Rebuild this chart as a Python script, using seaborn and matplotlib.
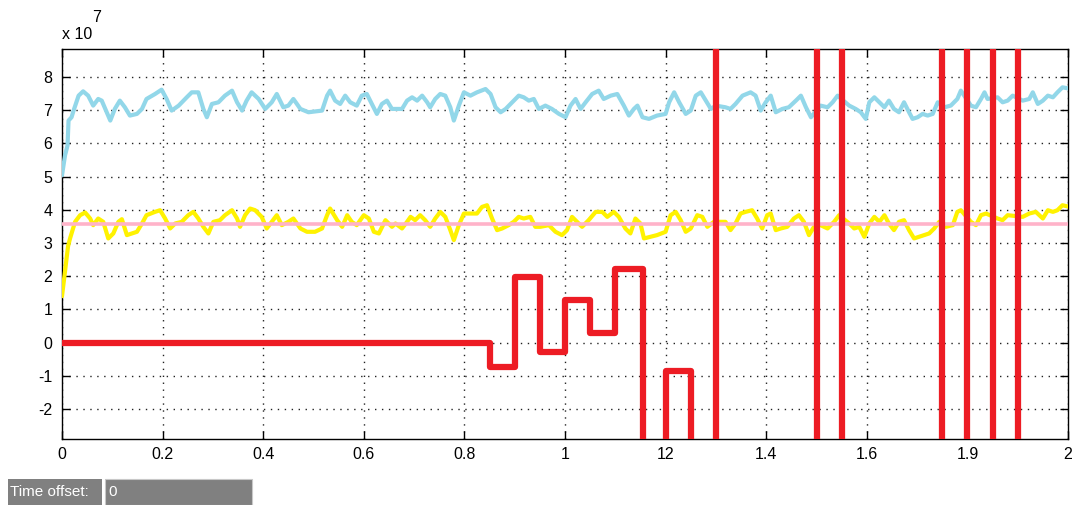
import numpy as np
import pandas as pd
import matplotlib
matplotlib.use("Agg")
import matplotlib.pyplot as plt
from matplotlib.patches import Rectangle
import seaborn as sns

# ---------------- data (values in units of 1e7) ----------------
cyan_t = [0.000, 0.006, 0.011, 0.013, 0.019, 0.023, 0.033, 0.042, 0.052, 0.062, 0.072, 0.079, 0.086, 0.096,
          0.105, 0.115, 0.125, 0.135, 0.149, 0.159, 0.168, 0.185, 0.198, 0.208, 0.218, 0.232, 0.248, 0.258,
          0.271, 0.281, 0.288, 0.298, 0.311, 0.324, 0.338, 0.348, 0.358, 0.367, 0.377, 0.391, 0.404, 0.417,
          0.427, 0.440, 0.450, 0.460, 0.474, 0.490, 0.517, 0.527, 0.533, 0.543, 0.553, 0.563, 0.573, 0.586,
          0.596, 0.606, 0.616, 0.626, 0.636, 0.646, 0.656,
          0.663, 0.676, 0.686, 0.696, 0.706, 0.716, 0.726, 0.732, 0.742, 0.752, 0.762, 0.772, 0.779, 0.789,
          0.799, 0.812, 0.825, 0.842, 0.852, 0.862, 0.872, 0.882, 0.895, 0.908, 0.918, 0.928, 0.938, 0.948,
          0.961, 0.974, 0.988, 1.001, 1.011, 1.021, 1.031, 1.041, 1.054, 1.067, 1.077, 1.091, 1.104, 1.117,
          1.127, 1.137, 1.144, 1.154, 1.167, 1.183, 1.200, 1.207, 1.217, 1.227, 1.240, 1.250, 1.260, 1.270,
          1.280, 1.290, 1.300, 1.319,
          1.329, 1.339, 1.353, 1.369, 1.379, 1.389, 1.399, 1.409, 1.419, 1.432, 1.445, 1.459, 1.469, 1.479,
          1.489, 1.508, 1.522, 1.532, 1.542, 1.565, 1.578, 1.588, 1.598, 1.605, 1.615, 1.625, 1.635, 1.644,
          1.654, 1.664, 1.674, 1.684, 1.691, 1.701, 1.711, 1.721, 1.731, 1.741, 1.754, 1.767, 1.780, 1.787,
          1.807, 1.817, 1.827, 1.834, 1.840, 1.860, 1.870, 1.880, 1.890, 1.910, 1.923, 1.930, 1.940, 1.950,
          1.960, 1.970, 1.979, 1.989, 2.000]
cyan_v = [5.04, 5.64, 5.94, 6.69, 6.79, 6.99, 7.44, 7.57, 7.44, 7.14, 7.34, 7.29, 7.04, 6.69,
          7.04, 7.29, 7.09, 6.84, 6.89, 7.04, 7.34, 7.49, 7.62, 7.34, 6.99, 7.14, 7.39, 7.54,
          7.54, 7.04, 6.79, 7.19, 7.24, 7.44, 7.59, 7.24, 6.99, 7.29, 7.54, 7.34, 7.04, 7.24,
          7.49, 7.09, 7.14, 7.34, 7.04, 6.94, 6.99, 7.44, 7.59, 7.29, 7.19, 7.44, 7.24, 7.14,
          7.44, 7.49, 7.19, 6.89, 7.19, 7.29, 7.04,
          7.04, 7.04, 7.29, 7.39, 7.29, 7.44, 7.24, 7.09, 7.34, 7.49, 7.44, 7.09, 6.69, 7.14,
          7.54, 7.44, 7.54, 7.64, 7.49, 7.09, 6.94, 7.04, 7.24, 7.44, 7.39, 7.29, 7.34, 7.04,
          7.14, 7.04, 6.89, 6.79, 7.14, 7.34, 7.04, 7.24, 7.49, 7.59, 7.34, 7.44, 7.49, 7.14,
          6.84, 7.04, 7.14, 6.79, 6.74, 6.84, 6.89, 7.24, 7.54, 7.24, 6.89, 6.99, 7.44, 7.54,
          7.29, 7.04, 7.14, 7.09,
          7.04, 7.19, 7.44, 7.54, 7.44, 6.99, 7.24, 7.44, 6.94, 7.04, 7.09, 7.29, 7.44, 7.09,
          6.79, 7.14, 7.09, 7.24, 7.44, 7.14, 7.04, 6.94, 6.74, 7.24, 7.39, 7.24, 7.09, 7.29,
          7.04, 6.94, 7.24, 6.94, 6.74, 6.79, 6.89, 6.84, 6.89, 7.24, 7.09, 7.14, 7.34, 7.59,
          7.14, 7.09, 7.34, 7.54, 7.34, 7.39, 7.24, 7.29, 7.44, 7.29, 7.34, 7.54, 7.19, 7.29,
          7.44, 7.39, 7.54, 7.69, 7.66]

yellow_t = [0.000, 0.004, 0.008, 0.012, 0.016, 0.026, 0.036, 0.046, 0.056, 0.062, 0.072, 0.082, 0.092, 0.102,
            0.112, 0.119, 0.129, 0.139, 0.149, 0.159, 0.168, 0.185, 0.195, 0.205, 0.215, 0.225, 0.238, 0.251,
            0.261, 0.271, 0.281, 0.291, 0.301, 0.314, 0.324, 0.338, 0.348, 0.354, 0.364, 0.374, 0.384, 0.397,
            0.407, 0.417, 0.427, 0.437, 0.450, 0.460, 0.474, 0.487, 0.503, 0.517, 0.527, 0.533, 0.547, 0.557,
            0.567, 0.576, 0.586, 0.600, 0.610, 0.620, 0.630, 0.643, 0.656,
            0.663, 0.676, 0.686, 0.693, 0.702, 0.712, 0.722, 0.732, 0.742, 0.752, 0.762, 0.772, 0.779, 0.789,
            0.799, 0.812, 0.825, 0.835, 0.845, 0.855, 0.865, 0.875, 0.888, 0.898, 0.908, 0.918, 0.931, 0.941,
            0.951, 0.968, 0.981, 0.994, 1.004, 1.014, 1.024, 1.034, 1.047, 1.061, 1.074, 1.084, 1.097, 1.107,
            1.120, 1.130, 1.140, 1.150, 1.157, 1.170, 1.183, 1.200, 1.210, 1.220, 1.230, 1.240, 1.250, 1.263,
            1.273, 1.283, 1.296, 1.319,
            1.329, 1.339, 1.349, 1.359, 1.372, 1.382, 1.392, 1.402, 1.409, 1.419, 1.429, 1.442, 1.455, 1.465,
            1.475, 1.485, 1.495, 1.508, 1.522, 1.535, 1.545, 1.565, 1.575, 1.585, 1.595, 1.605, 1.615, 1.625,
            1.635, 1.644, 1.654, 1.664, 1.674, 1.684, 1.694, 1.704, 1.714, 1.724, 1.734, 1.744, 1.757, 1.771,
            1.780, 1.787, 1.807, 1.817, 1.827, 1.837, 1.860, 1.870, 1.880, 1.910, 1.923, 1.936, 1.950, 1.960,
            1.970, 1.979, 1.989, 2.000]
yellow_v = [1.40, 1.90, 2.40, 2.90, 3.14, 3.64, 3.84, 3.92, 3.74, 3.54, 3.74, 3.64, 3.14, 3.29,
            3.64, 3.72, 3.24, 3.29, 3.34, 3.59, 3.84, 3.94, 3.99, 3.74, 3.44, 3.59, 3.64, 3.84,
            3.94, 3.74, 3.49, 3.29, 3.64, 3.69, 3.84, 3.99, 3.74, 3.49, 3.84, 4.04, 3.99, 3.79,
            3.44, 3.64, 3.84, 3.54, 3.64, 3.74, 3.44, 3.34, 3.34, 3.44, 3.84, 4.04, 3.69, 3.49,
            3.84, 3.64, 3.54, 3.84, 3.74, 3.34, 3.29, 3.69, 3.49,
            3.59, 3.44, 3.64, 3.79, 3.69, 3.84, 3.69, 3.49, 3.74, 3.94, 3.79, 3.39, 3.09, 3.54,
            3.89, 3.89, 3.89, 4.09, 4.14, 3.74, 3.39, 3.44, 3.54, 3.64, 3.79, 3.74, 3.79, 3.49,
            3.49, 3.54, 3.34, 3.24, 3.39, 3.79, 3.64, 3.49, 3.69, 3.94, 3.94, 3.79, 3.94, 3.79,
            3.44, 3.29, 3.74, 3.59, 3.14, 3.19, 3.24, 3.34, 3.84, 3.94, 3.69, 3.34, 3.44, 3.84,
            3.79, 3.49, 3.64, 3.64,
            3.39, 3.59, 3.89, 3.94, 3.99, 3.74, 3.44, 3.84, 3.89, 3.39, 3.44, 3.49, 3.74, 3.84,
            3.64, 3.24, 3.49, 3.54, 3.44, 3.64, 3.84, 3.59, 3.44, 3.49, 3.19, 3.59, 3.79, 3.64,
            3.84, 3.59, 3.39, 3.64, 3.69, 3.39, 3.14, 3.19, 3.24, 3.29, 3.44, 3.64, 3.49, 3.54,
            3.94, 3.99, 3.64, 3.54, 3.84, 3.89, 3.74, 3.69, 3.84, 3.79, 3.89, 3.94, 3.74, 3.99,
            3.94, 3.99, 4.14, 4.10]

pink_t = [0.0, 2.0]
pink_v = [3.58, 3.58]

# step signal; +/-50 stands for values far outside the visible range
red_t = [0.00, 0.85, 0.90, 0.95, 1.00, 1.05, 1.10, 1.155, 1.20, 1.25, 1.30, 1.50, 1.55, 1.75, 1.80, 1.85, 1.90, 2.00]
red_v = [0.00, -0.72, 1.98, -0.27, 1.28, 0.30, 2.23, -50.0, -0.84, -50.0, 50.0, -50.0, 50.0, -50.0, 50.0, -50.0, 50.0, 50.0]

x_ticks = [0.0, 0.2, 0.4, 0.6, 0.8, 1.0, 1.2, 1.4, 1.6, 1.8, 2.0]
x_tick_labels = ["0", "0.2", "0.4", "0.6", "0.8", "1", "12", "1.4", "1.6", "1.9", "2"]
y_ticks = [-2, -1, 0, 1, 2, 3, 4, 5, 6, 7, 8]
y_tick_labels = ["-2", "-1", "0", "1", "2", "3", "4", "5", "6", "7", "8"]

# ---------------- style ----------------
sns.set_theme(style="white")
plt.rcParams["font.family"] = ["Liberation Sans", "DejaVu Sans"]

W, H = 1077, 505
fig = plt.figure(figsize=(W / 100, H / 100), dpi=100)
ax = fig.add_axes([62 / W, 1 - 439 / H, (1068 - 62) / W, (439 - 48.5) / H])
ax.set_facecolor("white")

df_c = pd.DataFrame({"t": cyan_t, "v": cyan_v})
df_y = pd.DataFrame({"t": yellow_t, "v": yellow_v})
df_p = pd.DataFrame({"t": pink_t, "v": pink_v})
df_r = pd.DataFrame({"t": red_t, "v": red_v})

sns.lineplot(data=df_c, x="t", y="v", ax=ax, color="#92d7e9", lw=3.0, sort=False, estimator=None,
             solid_joinstyle="round", zorder=3)
sns.lineplot(data=df_y, x="t", y="v", ax=ax, color="#fff200", lw=3.0, sort=False, estimator=None,
             solid_joinstyle="round", zorder=4)
sns.lineplot(data=df_p, x="t", y="v", ax=ax, color="#ffb3c9", lw=2.6, sort=False, estimator=None, zorder=5)
sns.lineplot(data=df_r, x="t", y="v", ax=ax, color="#ed1c24", lw=4.5, sort=False, estimator=None,
             drawstyle="steps-post", solid_joinstyle="round", zorder=6)

ax.set_xlim(0, 2)
ax.set_ylim(-2.9, 8.86)
ax.set_xticks(x_ticks)
ax.set_xticklabels(x_tick_labels)
ax.set_yticks(y_ticks)
ax.set_yticklabels(y_tick_labels)
ax.set_xlabel("")
ax.set_ylabel("")

ax.grid(True, color="#222222", linestyle=(0, (1, 4)), linewidth=1.0)
ax.tick_params(direction="in", length=6, width=1.0, colors="black", labelsize=11.5,
               top=True, right=True, bottom=True, left=True)
ax.tick_params(axis="x", pad=6)
ax.tick_params(axis="y", pad=7)
for s in ax.spines.values():
    s.set_color("black")
    s.set_linewidth(1.0)
    s.set_visible(True)

# exponent label
fig.text(62 / W, 1 - 34 / H, "x 10", fontsize=11.5, ha="left", va="center", color="black")
fig.text(92 / W, 1 - 17 / H, "7", fontsize=11.5, ha="left", va="center", color="black")

# time offset boxes
fig.add_artist(Rectangle((8 / W, 0), 94 / W, 26 / H, transform=fig.transFigure,
                         facecolor="#808080", edgecolor="none"))
fig.add_artist(Rectangle((105 / W, 0), 147 / W, 26 / H, transform=fig.transFigure,
                         facecolor="#808080", edgecolor="#c8c8c8", linewidth=0.8))
fig.text(10 / W, 1 - 492 / H, "Time offset:", fontsize=11, color="white", ha="left", va="center")
fig.text(108 / W, 1 - 492 / H, "0", fontsize=11, color="white", ha="left", va="center")

fig.savefig("out.png", dpi=100)
